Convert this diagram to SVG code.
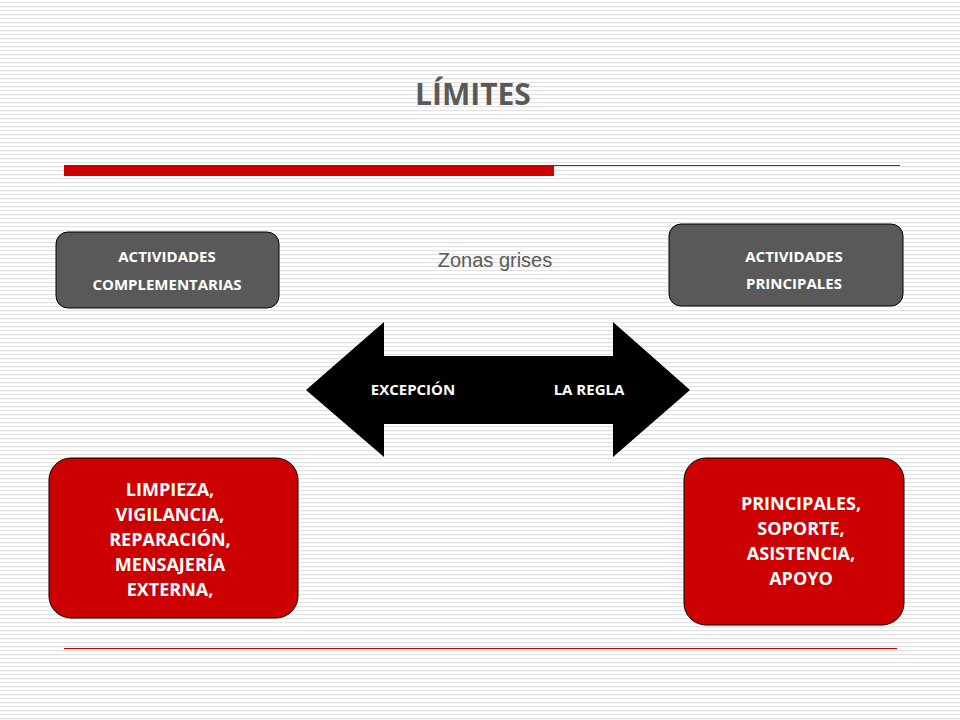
<svg xmlns="http://www.w3.org/2000/svg" width="960" height="720" viewBox="0 0 960 720">
<defs>
<pattern id="st" width="4" height="4" patternUnits="userSpaceOnUse"><rect width="4" height="4" fill="#fff"/><rect y="2" width="4" height="1.2" fill="#e2e2e2"/></pattern>
</defs>
<style>
.g{fill:#595959;stroke:#000;stroke-width:1}
.r{fill:#cc0000;stroke:#000;stroke-width:1}
.t{font-family:"Open Sans","Liberation Sans",sans-serif;font-weight:bold;fill:#fff;text-anchor:middle}
</style>
<rect width="960" height="720" fill="url(#st)"/>
<text x="473" y="105" font-family="Open Sans,Liberation Sans,sans-serif" font-weight="bold" font-size="30" fill="#595959" text-anchor="middle">LÍMITES</text>
<rect x="64" y="165" width="490" height="11" fill="#cc0000"/>
<line x1="554" y1="165.5" x2="900" y2="165.5" stroke="#cc0000" stroke-width="1"/>
<line x1="64" y1="648.5" x2="897" y2="648.5" stroke="#cc0000" stroke-width="1"/>
<text x="495" y="267" font-family="Liberation Sans,sans-serif" font-size="20" fill="#595959" text-anchor="middle">Zonas grises</text>
<g id="n1"><rect class="g" x="56" y="232" width="223" height="76" rx="12"/><text class="t" font-size="15"><tspan x="167" y="262">ACTIVIDADES</tspan><tspan x="167" y="290">COMPLEMENTARIAS</tspan></text></g>
<g id="n2"><rect class="g" x="669" y="224" width="234" height="82" rx="12"/><text class="t" font-size="15"><tspan x="794" y="262">ACTIVIDADES</tspan><tspan x="794" y="289">PRINCIPALES</tspan></text></g>
<g id="n3"><rect class="r" x="49" y="458" width="249" height="160" rx="22"/><text class="t" font-size="18"><tspan x="170" y="496">LIMPIEZA,</tspan><tspan x="170" y="521">VIGILANCIA,</tspan><tspan x="170" y="546">REPARACIÓN,</tspan><tspan x="170" y="571">MENSAJERÍA</tspan><tspan x="170" y="596">EXTERNA,</tspan></text></g>
<g id="n4"><rect class="r" x="684" y="458" width="220" height="167" rx="22"/><text class="t" font-size="18"><tspan x="801" y="510">PRINCIPALES,</tspan><tspan x="801" y="535">SOPORTE,</tspan><tspan x="801" y="560">ASISTENCIA,</tspan><tspan x="801" y="585">APOYO</tspan></text></g>
<g id="connectors">
<polygon points="306,390 384,322 384,356 613,356 613,322 690,390 613,457 613,424 384,424 384,457" fill="#000"/>
<text class="t" font-size="15" x="413" y="395">EXCEPCIÓN</text>
<text class="t" font-size="15" x="589" y="395">LA REGLA</text>
</g>
</svg>
